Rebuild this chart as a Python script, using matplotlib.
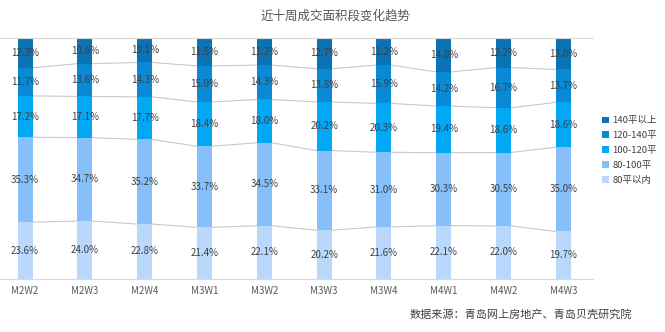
import numpy as np
import matplotlib.pyplot as plt

plt.rcParams['font.family'] = ['Noto Sans CJK SC', 'DejaVu Sans']

weeks = ['M2W2', 'M2W3', 'M2W4', 'M3W1', 'M3W2', 'M3W3', 'M3W4', 'M4W1', 'M4W2', 'M4W3']
series = ['80平以内', '80-100平', '100-120平', '120-140平', '140平以上']
s_lt80 = [23.6, 24.0, 22.8, 21.4, 22.1, 20.2, 21.6, 22.1, 22.0, 19.7]
s_80_100 = [35.3, 34.7, 35.2, 33.7, 34.5, 33.1, 31.0, 30.3, 30.5, 35.0]
s_100_120 = [17.2, 17.1, 17.7, 18.4, 18.0, 20.2, 20.3, 19.4, 18.6, 18.6]
s_120_140 = [11.7, 13.6, 14.3, 15.0, 14.3, 13.8, 15.9, 14.2, 16.7, 13.7]
s_gt140 = [12.3, 10.6, 10.1, 11.5, 11.2, 12.7, 11.2, 14.0, 12.2, 13.0]
colors = ['#b9d8fb', '#86bff9', '#02a8f4', '#0a8ad5', '#0b72b4']

raw = [s_lt80, s_80_100, s_100_120, s_120_140, s_gt140]
data = np.array(raw)
# scale each week to 100% so the bars fill the frame
data = data / data.sum(axis=0) * 100
x = np.arange(len(weeks))
w = 0.25

fig = plt.figure(figsize=(6.65, 3.32), dpi=100)
ax = fig.add_axes([0.0, 0.16, 0.892, 0.725])

bottom = np.zeros(len(weeks))
for vals, r_vals, name, c in zip(data, raw, series, colors):
    ax.bar(x, vals, w, bottom=bottom, color=c, label=name, zorder=2)
    for xi, b, v, r in zip(x, bottom, vals, r_vals):
        ax.text(xi, b + v / 2, f'{r:.1f}%', ha='center', va='center',
                fontsize=7, color='#404040', zorder=3)
    bottom = bottom + vals
    # grey connectors between bars at each boundary
    for i in range(len(weeks) - 1):
        ax.plot([x[i] + w / 2, x[i + 1] - w / 2], [bottom[i], bottom[i + 1]],
                color='#c8c8c8', lw=0.8, zorder=1)

ax.set_xlim(-0.42, 9.5)
ax.set_ylim(0, 100)
ax.set_yticks([])
ax.set_xticks(x)
ax.set_xticklabels(weeks, fontsize=7, color='#595959')
ax.tick_params(axis='x', length=0, pad=5)
for side in ['left', 'right']:
    ax.spines[side].set_visible(False)
ax.spines['bottom'].set_color('#d9d9d9')
ax.spines['top'].set_color('#d9d9d9')

h, l = ax.get_legend_handles_labels()
fig.legend(h[::-1], l[::-1], loc='upper left', bbox_to_anchor=(0.896, 0.67),
           frameon=False, fontsize=6.8, handlelength=0.7, handleheight=0.7,
           handletextpad=0.35, labelspacing=0.62, labelcolor='#404040',
           borderaxespad=0.3)

fig.text(0.504, 0.952, '近十周成交面积段变化趋势', ha='center', va='center',
         fontsize=9, color='#595959')
fig.text(0.95, 0.052, '数据来源：青岛网上房地产、青岛贝壳研究院', ha='right', va='center',
         fontsize=8, color='#404040')

fig.savefig('out.png', dpi=100)
